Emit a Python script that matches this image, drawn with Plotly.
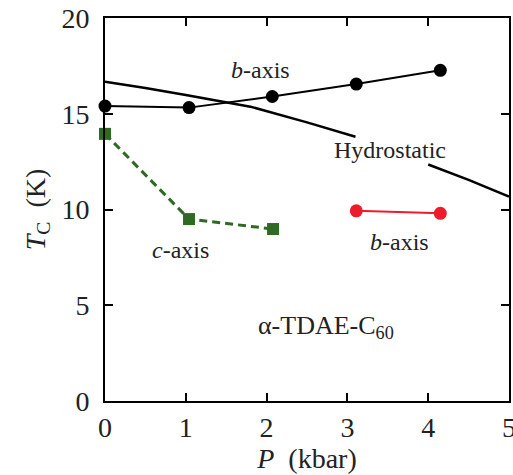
import plotly.graph_objects as go

# b-axis (black) data
b_black_x = [0.0, 1.04, 2.07, 3.11, 4.15]
b_black_y = [15.4, 15.32, 15.9, 16.55, 17.27]

# c-axis (green) data
c_x = [0.0, 1.04, 2.08]
c_y = [13.95, 9.5, 8.98]

# b-axis (red) data
b_red_x = [3.11, 4.15]
b_red_y = [9.93, 9.8]

# Hydrostatic curve (two segments around label)
hyd1_x = [0.0, 0.5, 1.0, 1.5, 1.8, 2.5, 3.1]
hyd1_y = [16.67, 16.35, 15.98, 15.6, 15.37, 14.55, 13.8]
hyd2_x = [4.0, 4.5, 5.0]
hyd2_y = [12.35, 11.55, 10.67]

FONT = "Liberation Serif"
GREEN = "#2e6a22"
RED = "#ec1c2c"

fig = go.Figure()
fig.add_trace(go.Scatter(x=hyd1_x, y=hyd1_y, mode="lines",
                         line=dict(color="black", width=2.5), showlegend=False))
fig.add_trace(go.Scatter(x=hyd2_x, y=hyd2_y, mode="lines",
                         line=dict(color="black", width=2.5), showlegend=False))
fig.add_trace(go.Scatter(x=b_black_x, y=b_black_y, mode="lines+markers",
                         line=dict(color="black", width=2),
                         marker=dict(symbol="circle", size=13, color="black"),
                         cliponaxis=False, showlegend=False))
fig.add_trace(go.Scatter(x=c_x, y=c_y, mode="lines+markers",
                         line=dict(color=GREEN, width=3, dash="8px,5px"),
                         marker=dict(symbol="square", size=12, color=GREEN),
                         cliponaxis=False, showlegend=False))
fig.add_trace(go.Scatter(x=b_red_x, y=b_red_y, mode="lines+markers",
                         line=dict(color=RED, width=2),
                         marker=dict(symbol="circle", size=13, color=RED),
                         cliponaxis=False, showlegend=False))

ann_font = dict(family=FONT, size=24, color="#222")
fig.add_annotation(x=1.93, y=17.28, text="<i>b</i>-axis", showarrow=False, font=ann_font)
fig.add_annotation(x=3.53, y=13.1, text="Hydrostatic", showarrow=False, font=ann_font)
fig.add_annotation(x=0.93, y=7.88, text="<i>c</i>-axis", showarrow=False, font=ann_font)
fig.add_annotation(x=3.65, y=8.3, text="<i>b</i>-axis", showarrow=False, font=ann_font)
fig.add_annotation(x=2.74, y=3.85, text="α-TDAE-C<sub>60</sub>", showarrow=False,
                   font=dict(family=FONT, size=26, color="#222"))

axis_common = dict(showline=True, linecolor="black", linewidth=2, mirror="ticks",
                   ticks="inside", ticklen=8, tickwidth=2, tickcolor="black",
                   showgrid=False, zeroline=False, automargin=False,
                   tickfont=dict(family=FONT, size=28, color="#222"))

fig.update_xaxes(range=[0, 5], tickvals=[0, 1, 2, 3, 4, 5],
                 ticklabeloverflow="allow",
                 title=dict(text="<i>P</i>  (kbar)", font=dict(family=FONT, size=28, color="#222"),
                            standoff=4),
                 ticklabelstandoff=0, **axis_common)
fig.update_yaxes(range=[0, 20], tickvals=[0, 5, 10, 15, 20],
                 title=dict(text="<i>T</i><sub>C</sub>  (K)", font=dict(family=FONT, size=28, color="#222"),
                            standoff=8),
                 ticklabelstandoff=8, **axis_common)

fig.update_layout(width=513, height=475, margin=dict(l=105, r=4, t=18, b=74),
                  template="none",
                  plot_bgcolor="white", paper_bgcolor="white")

fig.write_html("out.html")
